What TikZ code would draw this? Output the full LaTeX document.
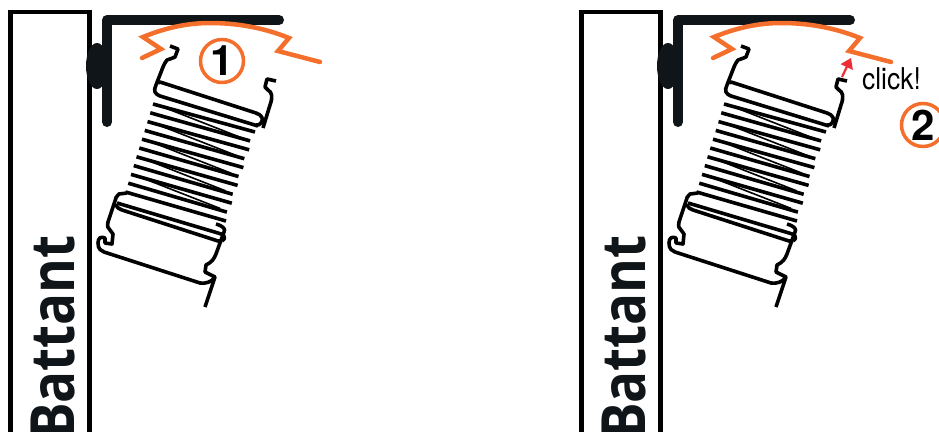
\documentclass[tikz,border=0pt]{standalone}
\usepackage{fontspec}
\setmainfont{TeX Gyre Heros}
\newfontfamily\wallfont{Open Sans}
\usetikzlibrary{arrows.meta,positioning}
\definecolor{profile}{HTML}{0F1518}
\definecolor{cliporange}{HTML}{F36F2B}
\definecolor{clickred}{HTML}{EE2E35}
\begin{document}
\begin{tikzpicture}[
  x=1pt, y=-1pt,
  wall/.style={draw=black, line width=4.5pt, miter limit=10},
  angle/.style={draw=profile, line width=10pt, line cap=round, line join=round},
  spring/.style={draw=black, line width=3.6pt, line join=round},
  coil/.style={draw=black, line width=3.6pt},
  backcoil/.style={draw=black, line width=1.6pt},
  orangeclip/.style={draw=cliporange, line width=4.5pt, line join=miter, line cap=round},
  stepmark/.style={circle, draw=cliporange, line width=3.5pt, minimum size=43pt, inner sep=0pt, font=\fontsize{42}{42}\selectfont\bfseries, text=black},
  walltxt/.style={font=\fontsize{61}{61}\wallfont\bfseries, text=profile, inner sep=0pt, rotate=90, xscale=.87, anchor=base east},
  clicktxt/.style={font=\fontsize{30}{30}\selectfont, xscale=.88, inner sep=0pt, anchor=base west},
  clickarrow/.style={-{Triangle[length=10pt,width=13pt]}, draw=clickred, fill=clickred, line width=2.2pt},
]
\useasboundingbox (0,0) rectangle (939,431);
\clip (0,0) rectangle (939,431);
\fill[white] (0,0) rectangle (939,431);
\foreach \dx in {0,571}{
\begin{scope}[xshift=\dx pt]
% door frame
\draw[wall] (10.5,440) -- (10.5,12) -- (89.5,12) -- (89.5,440);
\node[walltxt] at (74,235) {Battant};
% angle and seal
\fill[profile] (97,66) ellipse [x radius=11pt, y radius=23pt];
\draw[angle] (107,122) -- (107,20) -- (279,20);
% orange clip
\draw[orangeclip] (320,62) -- (278,51) -- (289,38) .. controls (262,27) and (235,23) .. (210,23) .. controls (187,23) and (165,28) .. (143,37) -- (161,49) -- (142,58);
% upper plate
\draw[spring] (170,46) -- (178,49) -- (175,57) .. controls (173,59) and (170,58) .. (167,60) .. controls (165,62) and (164,65) .. (163,67) -- (156,85) .. controls (153,91) and (155,94) .. (160,96) -- (258,126);
\draw[spring] (158,83) -- (160,82) -- (256,113) .. controls (262,115) and (264,119) .. (261,123) .. controls (260,125) and (258,125) .. (256,125);
\draw[spring] (263,128) -- (270,105) .. controls (273,97) and (272,92) .. (268,90) -- (265,87) -- (267,79) -- (276,81);
% coil
\foreach \i in {0,...,10}{
  \pgfmathsetmacro{\xa}{153-2.75*\i}
  \pgfmathsetmacro{\ya}{104+8.8*\i}
  \pgfmathsetmacro{\xb}{255-2.9*\i-2*mod(\i,2)}
  \pgfmathsetmacro{\yb}{132+8.9*\i}
  \draw[coil] (\xa,\ya) -- (\xb,\yb);
}
\foreach \i in {0,2,...,8}{
  \pgfmathsetmacro{\xa}{163-2.75*\i}
  \pgfmathsetmacro{\ya}{107+8.8*\i}
  \pgfmathsetmacro{\xb}{242-2.75*\i}
  \pgfmathsetmacro{\yb}{138+8.8*\i}
  \draw[backcoil] (\xa,\ya) -- (\xb,\yb);
}
% lower plate
\draw[spring] (127,193) -- (119,194) .. controls (116,196) and (116,198) .. (115,201) -- (108,222) .. controls (107,227) and (108,228) .. (110,230) -- (113,234) -- (112,244) -- (105,243) -- (105,238) .. controls (101,236) and (98,238) .. (98,243) .. controls (98,249) and (101,251) .. (104,252) -- (200,283) .. controls (205,284) and (212,282) .. (215,277) -- (205,307);
\draw[spring] (215,277) -- (205,272) -- (206,265) .. controls (212,262) and (214,259) .. (216,254) -- (224,232) .. controls (226,229) and (223,226) .. (216,224);
\draw[spring] (117,203) -- (218,233) .. controls (224,234) and (227,238) .. (222,241);
\draw[spring] (116,204) .. controls (117,208) and (119,209) .. (122,210) -- (218,241) -- (222,241);
\end{scope}
}
% step labels
\node[stepmark] (markone) at (222,61) {1};
\node[stepmark] (marktwo) at (923,125) {2};
\node[clicktxt] (clicklbl) at (862,89) {click!};
\coordinate (arrowfoot) at (842,77);
\coordinate (arrowtip) at (851,58);
\draw[clickarrow] (arrowfoot) -- (arrowtip);
\end{tikzpicture}
\end{document}
